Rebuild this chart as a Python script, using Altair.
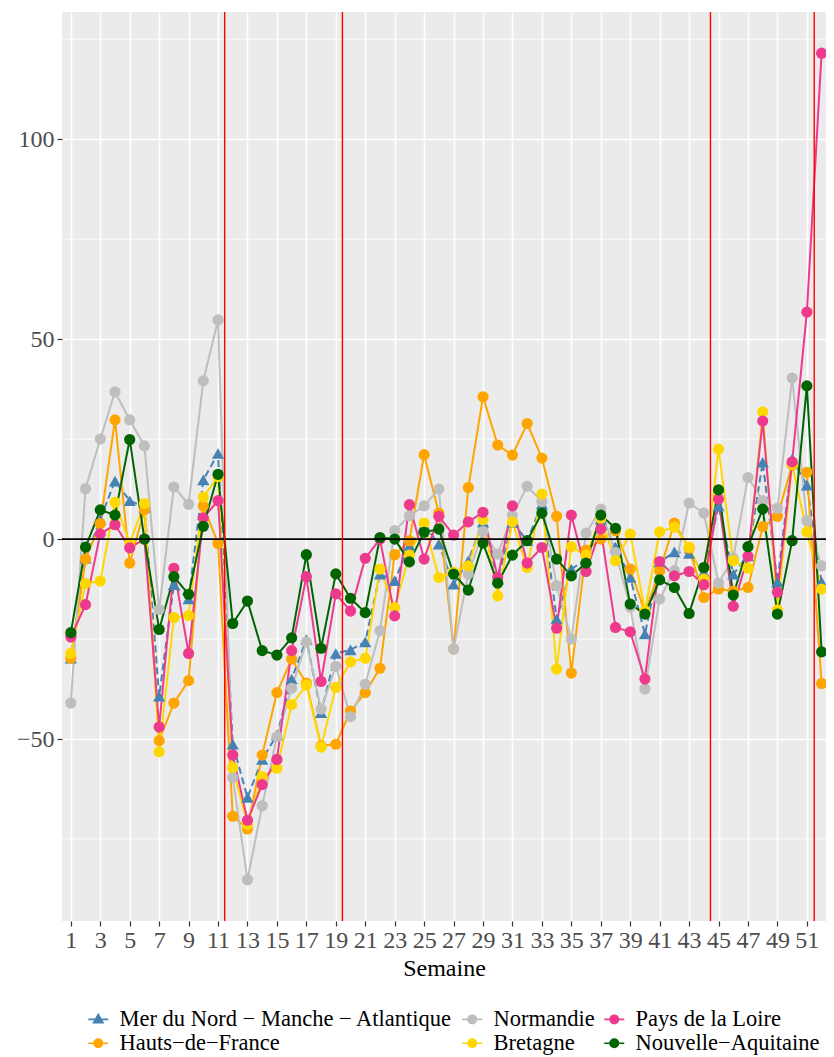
import altair as alt
import pandas as pd

weeks = list(range(1, 53))
regions = ["Mer du Nord − Manche − Atlantique", "Hauts−de−France", "Normandie",
           "Bretagne", "Pays de la Loire", "Nouvelle−Aquitaine"]
colors = ["#4682B4", "#FFA500", "#BEBEBE", "#FFD700", "#EE3A8C", "#006400"]

mer = [-29.8, -4.8, 5, 14.5, 9.6, 8, -39.3, -11.4, -15, 14.8, 21.4, -51.3, -64.6, -55.1,
       -49, -35, -25.1, -43.4, -28.6, -27.7, -25.7, -8.75, -10.4, -1.7, 3.5, -1.25, -11.25,
       -5.4, 4.2, -10, 4.2, -0.4, 8.75, -20, -7.5, -5, 5, -2, -9.6, -23.75, -5.8, -3.2, -3.6,
       -8.3, 8.3, -8.75, -4.2, 19.2, -10.7, 20, 13.5, -10.7]
hauts = [-29.8, -5.0, 3.9, 29.8, -6.0, 7.3, -50.4, -41, -35.4, 8.3, -1.1, -69.3, -72.5, -54,
         -38.4, -30, -36, -51.7, -51.3, -43, -38.4, -32.3, -3.9, -0.4, 21.1, 6.5, -27.5, 12.9,
         35.6, 23.5, 21, 28.9, 20.25, 5.7, -33.5, -2.75, 0, 2.1, -7.5, -18.3, -8, 4, -2.3,
         -14.6, -12.5, -13, -12.1, 3.1, 5.7, 18.5, 16.7, -36.1]
normandie = [-41, 12.6, 25, 36.8, 29.8, 23.3, -17.6, 13, 8.7, 39.6, 54.8, -59.6, -85.2, -66.7,
             -49.4, -37.3, -25.7, -42.5, -31.8, -44.4, -36.3, -22.9, 2.1, 5.8, 8.3, 12.5, -27.5,
             -8.75, 1.9, -3.75, 6, 13.2, 9.4, -11.6, -25, 1.5, 7.5, -3.3, -17, -37.5, -15, -7.9,
             9, 6.5, -11, -4.75, 15.4, 9.6, 7.7, 40.25, 4.6, -6.7]
bretagne = [-28.6, -11.1, -10.5, 9.2, -1, 8.9, -53.2, -19.6, -19.1, 10.5, 15.6, -57.1, -71.4,
            -59.4, -57.3, -41.4, -36.5, -52, -37.1, -30.7, -29.8, -7.5, -17.1, -4, 4, -9.6, -8.3,
            -6.7, 4.8, -14.2, 4.3, -7.1, 11.25, -32.5, -1.9, -4, 5.2, -5.4, 1.25, -17.9, 1.8, 3,
            -2, -10, 22.5, -5.4, -7.3, 31.8, -17.7, 18.75, 1.8, -12.5]
loire = [-24.5, -16.4, 1.3, 3.6, -2.2, 0, -47, -7.3, -28.6, 5.3, 9.6, -54, -70.3, -61.4, -55.1,
         -27.9, -9.4, -35.6, -13.7, -18, -4.8, 0, -19.2, 8.6, -5, 5.7, 1, 4.3, 6.7, -9.6, 8.3,
         -6, -2.1, -22.3, 6, -8.1, 2.5, -22.1, -23.2, -35, -5.6, -9.2, -8.1, -11.4, 10, -16.8,
         -4.3, 29.5, -13.3, 19.3, 56.75, 121.5]
aquitaine = [-23.4, -2, 7.3, 6, 24.9, 0, -22.6, -9.4, -13.8, 3.2, 16.2, -21.1, -15.5, -27.9,
             -29, -24.7, -3.9, -27.3, -8.7, -14.8, -18.4, 0.4, 0, -5.7, 1.7, 2.5, -8.75, -12.75,
             -1, -11, -4, -0.4, 6.5, -5, -9.2, -6, 6, 2.7, -16.25, -18.75, -10.2, -12.1, -18.6,
             -7.1, 12.3, -14, -1.9, 7.5, -18.75, -0.4, 38.3, -28.2]
series = [mer, hauts, normandie, bretagne, loire, aquitaine]

x_ticks = list(range(1, 52, 2))
y_ticks = [-50, 0, 50, 100]
y_minor = [-75, -25, 25, 75, 125]
red_lines = [11.45, 19.45, 44.45, 51.5]
zero_line = [0]

circle_path = "M-1,0L1,0M-0.42,0A0.42,0.42,0,1,1,0.42,0A0.42,0.42,0,1,1,-0.42,0Z"
tri_path = "M-1,0L1,0M0,-0.5L0.47,0.32L-0.47,0.32Z"
legend_shapes = [tri_path] + [circle_path] * 5

rows = []
for r, vals in zip(regions, series):
    for w, v in zip(weeks, vals):
        rows.append({"semaine": w, "region": r, "valeur": v})
df = pd.DataFrame(rows)

# reversed domain for the plotting scales (legend handled by a separate layer)
regions_rev = regions[::-1]
colors_rev = colors[::-1]
dash_rev = ([[1, 0]] * 5 + [[7, 4]])

FONT = "Liberation Serif"
xscale = alt.Scale(domain=[0.4, 52.3], nice=False, zero=False)
yscale = alt.Scale(domain=[-95.5, 131.8], nice=False, zero=False)
xaxis = alt.Axis(values=x_ticks, title="Semaine", labelFontSize=24, titleFontSize=24,
                 labelColor="#4D4D4D", titleColor="black", titleFontWeight="normal",
                 labelPadding=2, titlePadding=4, labelFlush=False, labelOverlap=False)
yaxis = alt.Axis(values=y_ticks, title=None, labelFontSize=24, labelColor="#4D4D4D",
                 labelPadding=3)

X = alt.X("semaine:Q", scale=xscale, axis=xaxis)
Y = alt.Y("valeur:Q", scale=yscale, axis=yaxis)
C = alt.Color("region:N", scale=alt.Scale(domain=regions_rev, range=colors_rev), legend=None)

minor = alt.Chart(pd.DataFrame({"valeur": y_minor})).mark_rule(
    color="white", strokeWidth=0.8).encode(y=Y)

lines = alt.Chart(df).mark_line(strokeWidth=2).encode(
    x=X, y=Y, color=C,
    strokeDash=alt.StrokeDash("region:N", scale=alt.Scale(
        domain=regions_rev, range=dash_rev), legend=None),
)

tri = alt.Chart(df).transform_filter(
    alt.datum.region == regions[0]
).mark_point(filled=True, shape="triangle-up", size=150, opacity=1).encode(x=X, y=Y, color=C)

circ = alt.Chart(df).transform_filter(
    alt.datum.region != regions[0]
).mark_point(filled=True, shape="circle", size=125, opacity=1).encode(x=X, y=Y, color=C)

hline = alt.Chart(pd.DataFrame({"valeur": zero_line})).mark_rule(
    color="black", strokeWidth=1.8).encode(y=Y)
vlines = alt.Chart(pd.DataFrame({"semaine": red_lines})).mark_rule(
    color="red", strokeWidth=1.4).encode(x=X)

leg = alt.Legend(orient="none", legendX=25, legendY=996, columns=3, title=None,
                 labelFont=FONT, labelFontSize=22.5, labelColor="black", symbolSize=400,
                 symbolStrokeWidth=1.6, labelOffset=10, columnPadding=6, rowPadding=1,
                 symbolOpacity=1, labelLimit=600)
legend_layer = alt.Chart(df).transform_filter("false").mark_point(
    filled=True, opacity=1).encode(
    x=X, y=Y,
    fill=alt.Fill("region:N", scale=alt.Scale(domain=regions, range=colors), legend=leg),
    stroke=alt.Stroke("region:N", scale=alt.Scale(domain=regions, range=colors), legend=leg),
    shape=alt.Shape("region:N", scale=alt.Scale(domain=regions, range=legend_shapes), legend=leg),
)

chart = alt.layer(minor, lines, tri, circ, hline, vlines, legend_layer).properties(
    width=764, height=909,
    padding={"left": 54, "top": 4, "right": 0, "bottom": 134},
    autosize=alt.AutoSizeParams(type="none"),
).configure(background="white").configure_view(fill="#EBEBEB", stroke=None).configure_axis(
    labelFont=FONT, titleFont=FONT, domain=False, grid=True, gridColor="white",
    gridWidth=1.6, tickColor="#333333", tickWidth=1.2, tickSize=5,
)

chart.save("out.html", embed_options={"renderer": "svg", "actions": False})
